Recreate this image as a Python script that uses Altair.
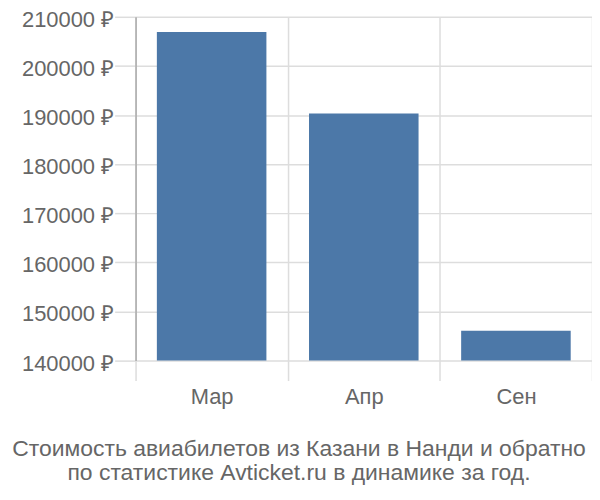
import altair as alt
import pandas as pd

months = ["Мар", "Апр", "Сен"]
prices = [206900, 190300, 146100]
base_price = 140000
y_ticks = [140000, 150000, 160000, 170000, 180000, 190000, 200000, 210000]
title_lines = ["Стоимость авиабилетов из Казани в Нанди и обратно",
               "по статистике Avticket.ru в динамике за год."]

df = pd.DataFrame({"month": months, "price": prices})

chart = alt.Chart(df).mark_bar(color="#4c78a8", width=alt.RelativeBandSize(0.72)).encode(
    x=alt.X("month:N", sort=months, title=None,
            scale=alt.Scale(paddingInner=0, paddingOuter=0),
            axis=alt.Axis(tickBand="extent", grid=True, gridColor="#dddddd", gridWidth=1.5,
                          tickColor="#dddddd", tickWidth=1.5, tickSize=20, domain=False,
                          labelAngle=0, labelFont="Liberation Sans", labelFontSize=22,
                          labelColor="#666666", labelPadding=6)),
    y=alt.Y("price:Q", title=None,
            scale=alt.Scale(domain=[140000, 210000], zero=False, nice=False),
            axis=alt.Axis(values=y_ticks, labelExpr="format(datum.value, 'd') + ' ₽'",
                          grid=True, gridColor="#dddddd", gridWidth=1.5,
                          tickColor="#dddddd", tickWidth=1.5, tickSize=21,
                          domainColor="#aaaaaa", domainWidth=1.5,
                          labelFont="Liberation Sans", labelFontSize=22,
                          labelColor="#666666", labelPadding=1, labelOffset=2.5)),
    y2=alt.datum(base_price),
).properties(
    width=458, height=345,
    autosize=alt.AutoSizeParams(type="none"),
    padding={"left": 128, "top": 8, "right": 0, "bottom": 130},
    title=alt.TitleParams(text=title_lines, orient="bottom", anchor="middle",
                          frame="group", dx=-65, offset=31,
                          font="Liberation Sans", fontSize=23, fontWeight="normal",
                          color="#666666", lineHeight=24),
).configure_view(stroke=None)

chart.save("out.html", embed_options={"renderer": "svg", "actions": False})
